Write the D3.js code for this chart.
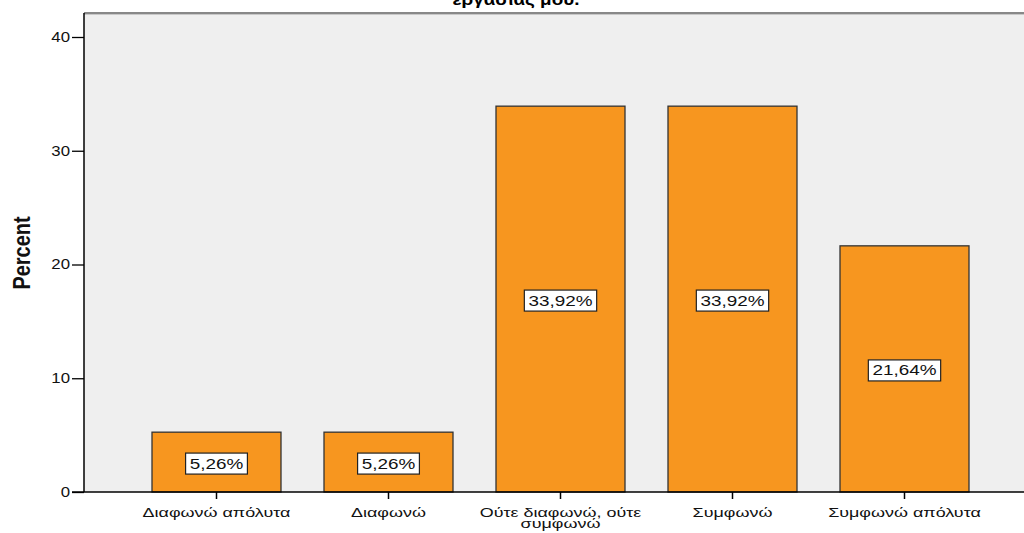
<!DOCTYPE html>
<html><head><meta charset="utf-8">
<script src="https://cdn.jsdelivr.net/npm/d3@7"></script>
<style>body{margin:0;background:#fff;} svg{display:block;}</style>
</head><body>
<svg id="c" width="1024" height="533"></svg>
<script>
const categories = ["Διαφωνώ απόλυτα", "Διαφωνώ", "Ούτε διαφωνώ, ούτε συμφωνώ", "Συμφωνώ", "Συμφωνώ απόλυτα"];
const categoryLines = [["Διαφωνώ απόλυτα"], ["Διαφωνώ"], ["Ούτε διαφωνώ, ούτε", "συμφωνώ"], ["Συμφωνώ"], ["Συμφωνώ απόλυτα"]];
const percents = [5.26, 5.26, 33.92, 33.92, 21.64];
const labels = ["5,26%", "5,26%", "33,92%", "33,92%", "21,64%"];
const yTicks = [0, 10, 20, 30, 40];
const titleText = "εργασίας μου.";
const yTitle = "Percent";

const FONT = "'Liberation Sans', Arial, sans-serif";
const svg = d3.select("#c");
const pLeft = 84, pTop = 13, pRight = 1030, pBottom = 492;
const x = d3.scaleBand().domain(categories).range([130.5, 990.5]).paddingInner(0.25).paddingOuter(0.125);
const y = d3.scaleLinear().domain([0, 40]).range([pBottom, 37]);

// title (cut off at top)
svg.append("text").attr("transform", "translate(516,5) scale(1.18,1)").attr("text-anchor", "middle")
  .style("font-family", FONT).style("font-weight", "bold").style("font-size", "16px")
  .text(titleText);

// plot background
svg.append("rect").attr("x", pLeft).attr("y", pTop).attr("width", pRight - pLeft).attr("height", pBottom - pTop)
  .attr("fill", "#efefef");
svg.append("line").attr("x1", pLeft).attr("x2", pRight).attr("y1", pTop).attr("y2", pTop).attr("stroke", "#888").attr("stroke-width", 2);
svg.append("line").attr("x1", pLeft).attr("x2", pRight).attr("y1", pTop + 1.5).attr("y2", pTop + 1.5).attr("stroke", "#c8c8c8").attr("stroke-width", 1);

// bars
svg.append("g").selectAll("rect").data(categories).join("rect")
  .attr("x", d => x(d)).attr("width", x.bandwidth())
  .attr("y", (d, i) => y(percents[i])).attr("height", (d, i) => y(0) - y(percents[i]))
  .attr("fill", "#f7961f").attr("stroke", "#333").attr("stroke-width", 1.3);

// value labels
const lg = svg.append("g").selectAll("g").data(categories).join("g")
  .attr("transform", (d, i) => `translate(${x(d) + x.bandwidth() / 2},${y(percents[i] / 2) + 1.5})`);
lg.append("rect").attr("fill", "#fff").attr("stroke", "#222").attr("stroke-width", 1.2);
lg.append("text").attr("text-anchor", "middle").attr("dy", "0.36em").attr("transform", "scale(1.35,1)")
  .style("font-family", FONT).style("font-size", "14px").attr("fill", "#111")
  .text((d, i) => labels[i])
  .each(function () {
    const b = this.getBBox();
    const w = b.width * 1.35 + 8;
    d3.select(this.parentNode).select("rect")
      .attr("x", -w / 2).attr("y", -10.5).attr("width", w).attr("height", 21);
  });

// y axis
const ya = svg.append("g").attr("transform", `translate(${pLeft},0)`)
  .call(d3.axisLeft(y).tickValues(yTicks).tickSize(12).tickPadding(2).tickFormat(d3.format("d")));
ya.select(".domain").attr("stroke", "#000").attr("stroke-width", 1.5).attr("d", `M0,${pTop}V${pBottom}`);
ya.selectAll(".tick line").attr("stroke", "#000").attr("stroke-width", 1.3);
ya.selectAll(".tick text").attr("x", null).attr("transform", "translate(-14,0) scale(1.2,1)")
  .style("font-family", FONT).style("font-size", "14px").attr("fill", "#111");

// x axis
const xa = svg.append("g").attr("transform", `translate(0,${pBottom})`)
  .call(d3.axisBottom(x).tickSize(7).tickFormat(""));
xa.select(".domain").attr("stroke", "#000").attr("stroke-width", 1.5).attr("d", `M${pLeft - 12},0H${pRight}`);
xa.selectAll(".tick line").attr("stroke", "#000").attr("stroke-width", 1.5);
xa.selectAll(".tick").each(function (d, i) {
  const t = d3.select(this).append("text").attr("text-anchor", "middle").attr("fill", "#111")
    .attr("transform", "scale(1.38,1)")
    .style("font-family", FONT).style("font-size", "13px");
  categoryLines[i].forEach((ln, k) => t.append("tspan").attr("x", 0).attr("y", 25 + k * 11).text(ln));
});

// y title
svg.append("text").attr("transform", "translate(30,253) rotate(-90) scale(0.83,1)").attr("text-anchor", "middle")
  .style("font-family", FONT).style("font-weight", "bold").style("font-size", "24px").attr("fill", "#111")
  .text(yTitle);
</script>
</body></html>
